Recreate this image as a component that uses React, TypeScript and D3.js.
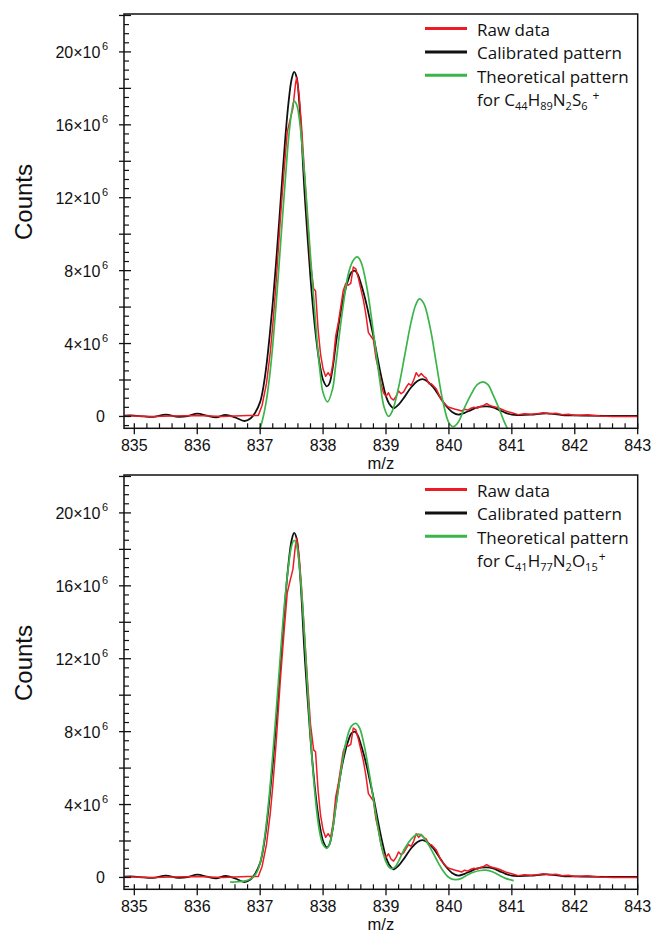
import React from 'react';
import * as d3 from 'd3';

type Pt = [number, number];

// m/z, counts (x10^6)
const rawData: Pt[] = [
  [834.84, 0.02], [835.0, 0.03], [835.3, 0.0], [835.6, 0.02], [836.0, 0.05], [836.4, 0.0], [836.8, 0.05],
  [836.97, 0.05], [837.03, 0.6], [837.1, 1.8], [837.16, 3.5], [837.2, 5.0], [837.25, 7.2], [837.32, 10.8],
  [837.38, 13.5], [837.43, 15.6], [837.47, 16.2], [837.52, 16.9], [837.56, 18.2], [837.58, 18.6],
  [837.62, 17.6], [837.66, 15.8], [837.7, 13.6], [837.75, 10.9], [837.8, 8.4], [837.85, 7.0], [837.88, 6.9],
  [837.92, 4.8], [837.96, 3.4], [838.0, 2.6], [838.04, 2.2], [838.08, 2.4], [838.12, 2.2], [838.16, 3.0],
  [838.2, 4.4], [838.24, 5.1], [838.28, 6.0], [838.32, 6.9], [838.36, 7.3], [838.4, 7.2], [838.44, 7.3],
  [838.48, 8.2], [838.52, 8.1], [838.56, 7.6], [838.6, 7.0], [838.64, 6.4], [838.68, 5.6], [838.72, 4.6],
  [838.76, 4.4], [838.8, 4.2], [838.84, 3.2], [838.88, 2.6], [838.92, 1.8], [838.96, 1.3], [839.0, 1.1],
  [839.04, 1.3], [839.08, 1.0], [839.12, 0.9], [839.16, 1.1], [839.2, 1.4], [839.24, 1.25], [839.28, 1.35],
  [839.32, 1.6], [839.36, 1.8], [839.4, 1.7], [839.44, 2.0], [839.48, 2.4], [839.52, 2.2], [839.56, 2.35],
  [839.6, 2.2], [839.64, 2.1], [839.68, 1.8], [839.72, 1.8], [839.76, 1.65], [839.8, 1.5], [839.84, 1.2],
  [839.88, 0.9], [839.92, 0.75], [839.96, 0.6], [840.0, 0.5], [840.05, 0.45], [840.1, 0.4], [840.15, 0.35],
  [840.2, 0.3], [840.25, 0.4], [840.3, 0.35], [840.35, 0.45], [840.4, 0.5], [840.45, 0.45], [840.5, 0.55],
  [840.55, 0.6], [840.6, 0.7], [840.65, 0.6], [840.7, 0.55], [840.75, 0.5], [840.8, 0.45], [840.9, 0.3],
  [841.0, 0.2], [841.1, 0.1], [841.2, 0.15], [841.3, 0.12], [841.4, 0.15], [841.5, 0.2], [841.6, 0.15],
  [841.7, 0.18], [841.8, 0.1], [841.9, 0.12], [842.0, 0.05], [842.2, 0.1], [842.4, 0.02], [842.6, 0.0],
  [843.0, 0.0],
];

const calibratedData: Pt[] = [
  [834.84, 0.05], [835.0, 0.05], [835.15, 0.0], [835.3, -0.02], [835.5, 0.1], [835.7, -0.02], [835.85, 0.02],
  [836.0, 0.15], [836.15, 0.05], [836.3, -0.05], [836.45, 0.08], [836.6, -0.05], [836.75, -0.25],
  [836.85, -0.1], [836.92, 0.2], [837.0, 0.8], [837.05, 1.6], [837.1, 2.8], [837.15, 4.4], [837.2, 6.2],
  [837.25, 8.3], [837.3, 10.6], [837.35, 13.0], [837.4, 15.3], [837.45, 17.2], [837.5, 18.5], [837.54, 18.9],
  [837.58, 18.6], [837.62, 17.3], [837.66, 15.2], [837.7, 12.6], [837.75, 10.0], [837.8, 7.6], [837.85, 5.6],
  [837.9, 4.0], [837.95, 2.8], [838.0, 2.0], [838.06, 1.65], [838.1, 1.8], [838.15, 2.6], [838.2, 3.9],
  [838.25, 5.1], [838.3, 6.1], [838.35, 6.9], [838.4, 7.5], [838.45, 7.9], [838.5, 8.0], [838.55, 7.8],
  [838.6, 7.3], [838.65, 6.7], [838.7, 6.0], [838.75, 5.2], [838.8, 4.4], [838.85, 3.5], [838.9, 2.6],
  [838.95, 1.8], [839.0, 1.1], [839.05, 0.7], [839.12, 0.45], [839.2, 0.65], [839.3, 1.1], [839.4, 1.6],
  [839.5, 1.95], [839.58, 2.05], [839.65, 1.95], [839.75, 1.6], [839.85, 1.1], [839.95, 0.6], [840.05, 0.25],
  [840.15, 0.1], [840.25, 0.2], [840.35, 0.35], [840.45, 0.5], [840.6, 0.55], [840.7, 0.5], [840.8, 0.35],
  [840.9, 0.2], [841.0, 0.1], [841.1, 0.08], [841.3, 0.1], [841.55, 0.17], [841.8, 0.08], [842.1, 0.05],
  [842.5, 0.03], [843.0, 0.03],
];

const theoreticalTop: Pt[] = [
  [836.98, -0.9], [837.05, 0.0], [837.1, 0.9], [837.15, 2.2], [837.2, 3.9], [837.25, 6.0], [837.3, 8.3],
  [837.35, 10.7], [837.4, 13.0], [837.45, 15.2], [837.5, 16.7], [837.54, 17.3], [837.58, 17.1], [837.62, 16.4],
  [837.7, 13.5], [837.8, 8.8], [837.9, 4.3], [837.95, 2.5], [838.0, 1.3], [838.07, 0.8], [838.15, 1.5],
  [838.2, 2.8], [838.3, 5.6], [838.4, 7.8], [838.47, 8.5], [838.54, 8.75], [838.6, 8.5], [838.7, 7.0],
  [838.8, 4.6], [838.9, 2.0], [838.97, 0.5], [839.04, 0.0], [839.1, 0.3], [839.2, 1.6], [839.3, 3.4],
  [839.4, 5.2], [839.47, 6.1], [839.53, 6.45], [839.6, 6.2], [839.7, 4.9], [839.8, 2.9], [839.9, 0.9],
  [840.0, -0.35], [840.07, -0.56], [840.15, -0.3], [840.25, 0.5], [840.35, 1.2], [840.45, 1.75],
  [840.54, 1.9], [840.62, 1.75], [840.7, 1.2], [840.8, 0.4], [840.88, -0.3], [840.95, -0.8],
];

const theoreticalBottom: Pt[] = [
  [836.52, -0.25], [836.6, -0.25], [836.7, -0.22], [836.8, -0.15], [836.9, 0.05], [836.95, 0.3], [837.0, 0.8],
  [837.05, 1.7], [837.1, 3.0], [837.15, 4.7], [837.2, 6.7], [837.25, 8.9], [837.3, 11.2], [837.35, 13.5],
  [837.4, 15.5], [837.45, 17.1], [837.5, 18.2], [837.54, 18.5], [837.58, 18.2], [837.62, 17.2], [837.66, 15.6],
  [837.7, 13.5], [837.75, 10.6], [837.8, 7.7], [837.85, 5.4], [837.9, 3.6], [837.95, 2.4], [838.0, 1.8],
  [838.06, 1.6], [838.1, 1.8], [838.15, 2.6], [838.2, 3.8], [838.25, 5.0], [838.3, 6.2], [838.35, 7.2],
  [838.4, 7.9], [838.45, 8.3], [838.52, 8.45], [838.58, 8.2], [838.65, 7.3], [838.7, 6.4], [838.75, 5.4],
  [838.8, 4.3], [838.85, 3.2], [838.9, 2.2], [838.95, 1.4], [839.0, 0.85], [839.05, 0.55], [839.1, 0.48],
  [839.15, 0.6], [839.2, 0.9], [839.3, 1.6], [839.4, 2.1], [839.48, 2.35], [839.55, 2.35], [839.62, 2.1],
  [839.7, 1.65], [839.8, 1.0], [839.9, 0.4], [840.0, 0.0], [840.1, -0.12], [840.2, -0.05], [840.3, 0.15],
  [840.4, 0.3], [840.5, 0.38], [840.58, 0.4], [840.7, 0.3], [840.8, 0.12], [840.9, -0.05], [841.0, -0.15],
  [841.03, -0.17],
];

const xTicks = [835, 836, 837, 838, 839, 840, 841, 842, 843];
const yTickLabels = [0, 4, 8, 12, 16, 20];
const legendLabels = ['Raw data', 'Calibrated pattern', 'Theoretical pattern'];
const formulaTop: [string, string][] = [['C', '44'], ['H', '89'], ['N', '2'], ['S', '6']];
const formulaBottom: [string, string][] = [['C', '41'], ['H', '77'], ['N', '2'], ['O', '15']];

const RED = '#ed1c24';
const BLACK = '#111';
const GREEN = '#3ab54a';

const W = 655;
const H = 936;
const LEFT = 124;
const RIGHT = 637.7;
const PLOT_H = 414.3;
const AXIS_FONT = '"Liberation Sans", Arial, Helvetica, sans-serif';
const LEGEND_FONT = '"Open Sans", "Noto Sans", sans-serif';

function Panel({ top, theo, formula, id, gap }: { top: number; theo: Pt[]; formula: [string, string][]; id: string; gap: boolean }) {
  const x = d3.scaleLinear().domain([834.836, 843]).range([LEFT, RIGHT]);
  const y = d3.scaleLinear().domain([-0.65, 22.08]).range([top + PLOT_H, top]);

  const smooth = d3.line<Pt>().x(d => x(d[0])).y(d => y(d[1])).curve(d3.curveCatmullRom.alpha(0.5));
  const jagged = d3.line<Pt>().x(d => x(d[0])).y(d => y(d[1]));

  const xMinor = d3.range(835, 843.001, 0.2).filter(v => Math.abs(v - Math.round(v)) > 1e-6);
  const yMajor = d3.range(0, 22.01, 2);
  const yMinor = d3.range(-0.5, 22.01, 0.5).filter(v => Math.abs(v / 2 - Math.round(v / 2)) > 1e-6);
  const bottom = top + PLOT_H;

  const legendX = 477;
  const legendBase = top + 22;
  const colors = [RED, BLACK, GREEN];

  return (
    <g>
      <defs>
        <clipPath id={id}>
          <rect x={LEFT} y={top} width={RIGHT - LEFT} height={PLOT_H} />
        </clipPath>
      </defs>

      <g clipPath={`url(#${id})`} fill="none" strokeLinejoin="round">
        <path d={smooth(calibratedData) || ''} stroke={BLACK} strokeWidth={1.8} />
        <path d={jagged(rawData) || ''} stroke={RED} strokeWidth={1.5} />
        <path d={smooth(theo) || ''} stroke={GREEN} strokeWidth={1.7} />
      </g>

      {/* frame */}
      <rect x={LEFT} y={top} width={RIGHT - LEFT} height={PLOT_H} fill="none" stroke="#111" strokeWidth={1.5} />

      {/* x ticks */}
      {xMinor.map(v => (
        <line key={'xm' + v} x1={x(v)} x2={x(v)} y1={bottom} y2={bottom - 5} stroke="#111" strokeWidth={1.2} />
      ))}
      {xTicks.map(v => (
        <g key={'x' + v}>
          <line x1={x(v)} x2={x(v)} y1={bottom - 5} y2={bottom + 6} stroke="#111" strokeWidth={1.3} />
          <text x={x(v)} y={bottom + 23} textAnchor="middle" fontFamily={AXIS_FONT} fontSize={16} fill="#111">{v}</text>
        </g>
      ))}
      <text x={(LEFT + RIGHT) / 2} y={bottom + 41} textAnchor="middle" fontFamily={AXIS_FONT} fontSize={16.5} fill="#111">m/z</text>

      {/* y ticks */}
      {yMinor.map(v => (
        <line key={'ym' + v} x1={LEFT} x2={LEFT + 5} y1={y(v)} y2={y(v)} stroke="#111" strokeWidth={1.2} />
      ))}
      {yMajor.map(v => (
        <line key={'y' + v} x1={LEFT - 5} x2={LEFT + 7} y1={y(v)} y2={y(v)} stroke="#111" strokeWidth={1.3} />
      ))}
      {yTickLabels.map(v => (
        <text key={'yl' + v} x={v === 0 ? 105 : 108} y={y(v) + 6} textAnchor="end" fontFamily={AXIS_FONT} fontSize={16} fill="#111">
          {v === 0 ? '0' : (
            <>
              {`${v}×10`}
              <tspan fontSize={11} dx={1.5} dy={-8}>6</tspan>
            </>
          )}
        </text>
      ))}
      <text transform={`translate(32,${top + 188}) rotate(-90)`} textAnchor="middle" fontFamily={AXIS_FONT} fontSize={24} fill="#111">Counts</text>

      {/* legend */}
      {legendLabels.map((label, i) => (
        <g key={label}>
          <line x1={425} x2={467} y1={legendBase + i * 23.4 - 7.5} y2={legendBase + i * 23.4 - 7.5} stroke={colors[i]} strokeWidth={3} />
          <text x={legendX} y={legendBase + i * 23.4} fontFamily={LEGEND_FONT} fontSize={17} fill="#111">{label}</text>
        </g>
      ))}
      <text x={legendX} y={legendBase + 3 * 23.4} fontFamily={LEGEND_FONT} fontSize={17} fill="#111">
        {'for '}
        {formula.map(([el, n], i) => (
          <React.Fragment key={el + i}>
            <tspan dy={i === 0 ? 0 : -3.5}>{el}</tspan>
            <tspan fontSize={11} dy={3.5}>{n}</tspan>
          </React.Fragment>
        ))}
        <tspan fontSize={12} dx={gap ? 5 : 1} dy={-9.5}>+</tspan>
      </text>
    </g>
  );
}

export default function App() {
  return (
    <svg width={W} height={H} style={{ position: 'absolute', left: 0, top: 0, background: '#fff' }}>
      <rect width={W} height={H} fill="#fff" />
      <Panel top={14} theo={theoreticalTop} formula={formulaTop} id="clip-top" gap={true} />
      <Panel top={475} theo={theoreticalBottom} formula={formulaBottom} id="clip-bottom" gap={false} />
    </svg>
  );
}
